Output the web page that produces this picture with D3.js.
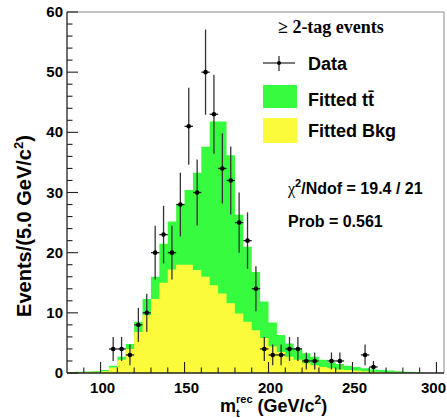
<!DOCTYPE html>
<html><head><meta charset="utf-8">
<script src="https://cdn.jsdelivr.net/npm/d3@7"></script>
<style>
html,body{margin:0;padding:0;background:#fff;}
svg{display:block;}
text{font-family:"Liberation Sans",Arial,Helvetica,sans-serif;font-weight:bold;fill:#000;}
</style></head><body>
<svg id="chart" width="447" height="418"></svg>
<script>
// Reconstructed top-quark mass, 5 GeV/c^2 bins (lower edges)
const binLow = d3.range(80, 290, 5);
// Observed events per bin (>= 2-tag sample)
const dataCounts = [0,0,0,0,0, 4,4,3,8,10, 20,23,20,28,41, 30,50,43,34,32,
                    25,22,14,4,3, 3,4,4,2,2, 0,2,2,0,0, 3,1,0,0,0, 0,0];
// Fitted background contribution
const fitBkg = [0.1,0.12,0.15,0.2,0.3, 0.9,2.2,4.0,6.8,9.6, 12.3,15.0,17.2,18.0,18.0,
                17.1,16.0,14.6,13.2,11.6, 9.9,8.5,7.1,5.8,4.4, 3.5,2.7,2.2,1.6,1.3,
                1.0,0.8,0.6,0.5,0.4, 0.3,0.2,0.15,0.1,0.05, 0.03,0.02];
// Fitted ttbar contribution (stacked on top of background)
const fitTtbar = [0.05,0.08,0.1,0.15,0.2, 0.3,0.5,0.8,1.7,2.7, 3.7,6.5,8.0,10.0,12.4,
                  16.2,21.6,27.2,28.6,24.6, 16.4,12.5,9.7,6.1,4.0, 2.8,2.2,1.9,1.7,1.4,
                  1.2,1.0,0.9,0.7,0.6, 0.5,0.4,0.35,0.3,0.25, 0.17,0.13];
const yTickValues = [0,10,20,30,40,50,60];
const xTickValues = [100,150,200,250,300];
const chi2Text = ["19.4", "21"];
const probText = "0.561";

const binWidth = 5;
const greenFill = "#37fb3f", yellowFill = "#fbfb3c";

const svg = d3.select("#chart");
const W = 447;
const x = d3.scaleLinear().domain([80, 304.5]).range([67, 444]);
const y = d3.scaleLinear().domain([0, 60]).range([373, 12]);

// Stacked histograms drawn as step areas
function stepPoints(vals) {
  return binLow.flatMap((b, i) => [[b, vals[i]], [b + binWidth, vals[i]]]);
}
const area = d3.area().x(d => x(d[0])).y0(y(0)).y1(d => y(d[1]));
const totalVals = fitBkg.map((v, i) => v + fitTtbar[i]);

const plot = svg.append("g");
plot.append("path").attr("d", area(stepPoints(totalVals))).attr("fill", greenFill);
plot.append("path").attr("d", area(stepPoints(fitBkg))).attr("fill", yellowFill);

// Frame
svg.append("line").attr("x1", 67).attr("x2", 444).attr("y1", 12).attr("y2", 12)
  .attr("stroke", "#8a8a8a").attr("stroke-width", 1);
svg.append("line").attr("x1", 444).attr("x2", 444).attr("y1", 12).attr("y2", 373)
  .attr("stroke", "#8a8a8a").attr("stroke-width", 1);

// Y axis with inward ticks
const yAxisG = svg.append("g");
yAxisG.append("line").attr("x1", 67).attr("x2", 67).attr("y1", 12).attr("y2", 373)
  .attr("stroke", "#222").attr("stroke-width", 1.3);
d3.range(0, 61, 2).forEach(v => {
  const major = v % 10 === 0;
  yAxisG.append("line").attr("x1", 67).attr("x2", 67 + (major ? 11 : 5.5))
    .attr("y1", y(v)).attr("y2", y(v)).attr("stroke", "#222").attr("stroke-width", 1.1);
});
yAxisG.selectAll("text.ytl").data(yTickValues).enter().append("text")
  .attr("class", "ytl").attr("x", 63).attr("y", d => y(d) + 5)
  .attr("text-anchor", "end").style("font-size", "15px").text(d => d);

// X axis with inward ticks
const xAxisG = svg.append("g");
xAxisG.append("line").attr("x1", 67).attr("x2", 444).attr("y1", 373).attr("y2", 373)
  .attr("stroke", "#222").attr("stroke-width", 1.3);
d3.range(90, 301, 10).forEach(v => {
  const major = v % 50 === 0;
  xAxisG.append("line").attr("x1", x(v)).attr("x2", x(v))
    .attr("y1", 373).attr("y2", 373 - (major ? 11 : 5.5))
    .attr("stroke", "#222").attr("stroke-width", 1.1);
});
xAxisG.selectAll("text.xtl").data(xTickValues).enter().append("text")
  .attr("class", "xtl").attr("x", d => x(d) + 2).attr("y", 393)
  .attr("text-anchor", "middle").style("font-size", "15px").text(d => d)
  .each(function () {
    // keep the last label inside the window
    const bb = this.getBBox();
    if (bb.x + bb.width > W - 1) d3.select(this).attr("x", +d3.select(this).attr("x") - (bb.x + bb.width - (W - 1)));
  });

// Data points with Poisson error bars
const pts = binLow.map((b, i) => ({ lo: b, n: dataCounts[i] })).filter(d => d.n > 0);
const dg = svg.append("g");
pts.forEach(d => {
  const cx = x(d.lo + binWidth / 2), e = Math.sqrt(d.n);
  dg.append("line").attr("x1", cx).attr("x2", cx).attr("y1", y(d.n + e)).attr("y2", y(d.n - e))
    .attr("stroke", "#333").attr("stroke-width", 1.3);
  dg.append("line").attr("x1", x(d.lo)).attr("x2", x(d.lo + binWidth)).attr("y1", y(d.n)).attr("y2", y(d.n))
    .attr("stroke", "#222").attr("stroke-width", 1.3);
  dg.append("circle").attr("cx", cx).attr("cy", y(d.n)).attr("r", 2.3).attr("fill", "#000");
});

// Legend
const lg = svg.append("g");
lg.append("text").attr("x", 278).attr("y", 33)
  .style("font-family", "'Liberation Serif','Times New Roman',serif").style("font-size", "18px")
  .text("\u2265 2-tag events");
lg.append("line").attr("x1", 263).attr("x2", 295).attr("y1", 63).attr("y2", 63).attr("stroke", "#222").attr("stroke-width", 1.2);
lg.append("line").attr("x1", 279).attr("x2", 279).attr("y1", 56).attr("y2", 71).attr("stroke", "#222").attr("stroke-width", 1.2);
lg.append("circle").attr("cx", 279).attr("cy", 63).attr("r", 2).attr("fill", "#000");
lg.append("text").attr("x", 308).attr("y", 70).style("font-size", "18px").text("Data");
lg.append("rect").attr("x", 263).attr("y", 85).attr("width", 34).attr("height", 23).attr("fill", greenFill);
const ttl = lg.append("text").attr("x", 308).attr("y", 106).style("font-size", "18px");
ttl.append("tspan").text("Fitted t");
ttl.append("tspan").text("t\u0304");
lg.append("rect").attr("x", 263).attr("y", 118).attr("width", 34).attr("height", 25).attr("fill", yellowFill);
lg.append("text").attr("x", 308).attr("y", 137).style("font-size", "18px").text("Fitted Bkg");

// Fit quality
const chi = lg.append("text").attr("x", 288).attr("y", 194).style("font-size", "16px");
chi.append("tspan").style("font-family", "'Liberation Serif',serif").style("font-weight", "normal").text("\u03c7");
chi.append("tspan").attr("dy", -7).style("font-size", "11px").text("2");
chi.append("tspan").attr("dy", 7).text(`/Ndof = ${chi2Text[0]} / ${chi2Text[1]}`);
lg.append("text").attr("x", 288).attr("y", 227).style("font-size", "16px").text(`Prob = ${probText}`);

// X axis title: m with stacked subscript t and superscript rec
const xtX = 220, xtY = 412;
const mTxt = svg.append("text").attr("x", xtX).attr("y", xtY).style("font-size", "18px").text("m");
const mW = mTxt.node().getComputedTextLength();
svg.append("text").attr("x", xtX + mW).attr("y", xtY + 5).style("font-size", "11px").text("t");
const recTxt = svg.append("text").attr("x", xtX + mW).attr("y", xtY - 9).style("font-size", "11px").text("rec");
const recW = recTxt.node().getComputedTextLength();
const unitTxt = svg.append("text").attr("x", xtX + mW + recW + 5).attr("y", xtY).style("font-size", "18px");
unitTxt.append("tspan").text("(GeV/c");
unitTxt.append("tspan").attr("dy", -8).style("font-size", "12px").text("2");
unitTxt.append("tspan").attr("dy", 8).text(")");

// Y axis title
const yt = svg.append("text").attr("transform", "translate(31,226) rotate(-90)")
  .attr("text-anchor", "middle").style("font-size", "20px");
yt.append("tspan").text("Events/(5.0 GeV/c");
yt.append("tspan").attr("dy", -8).style("font-size", "13px").text("2");
yt.append("tspan").attr("dy", 8).text(")");
</script>
</body></html>
